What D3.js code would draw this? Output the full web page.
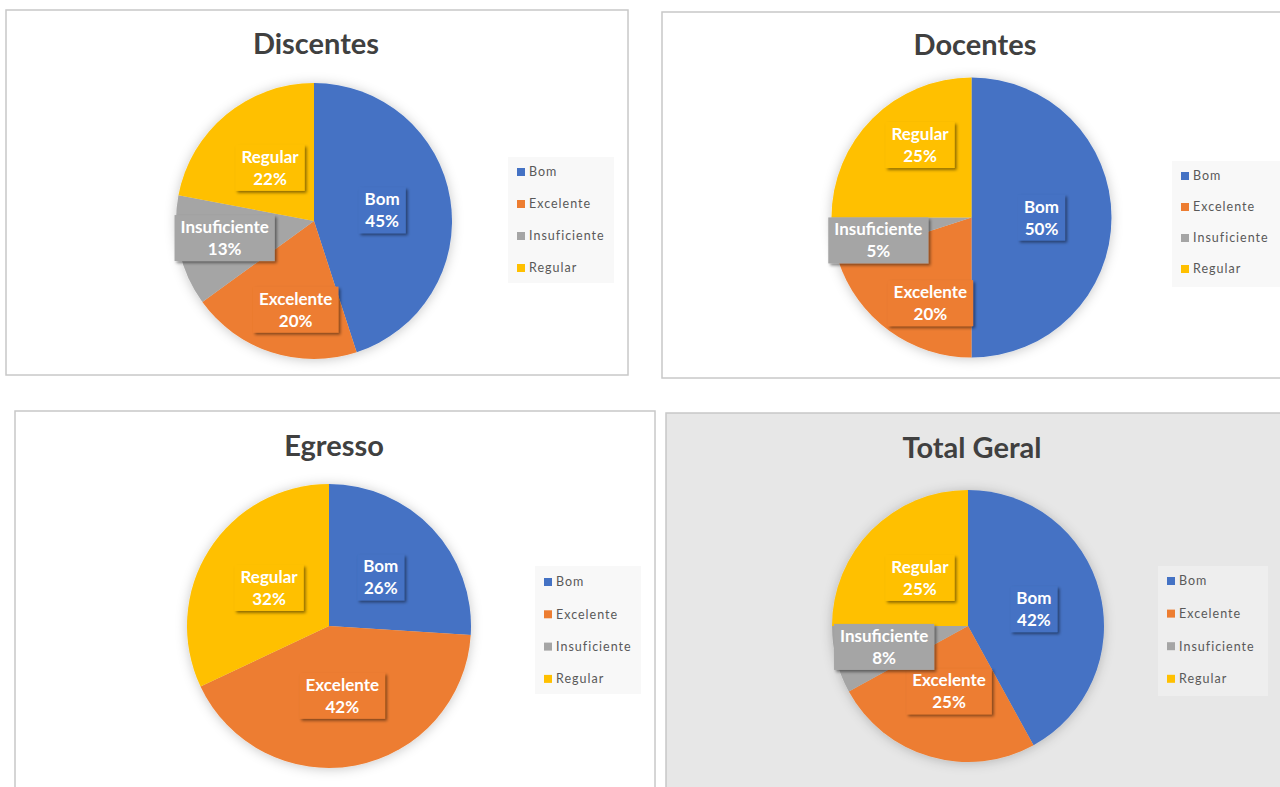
<!DOCTYPE html>
<html>
<head>
<meta charset="utf-8">
<script src="https://cdn.jsdelivr.net/npm/d3@7/dist/d3.min.js"></script>
<style>
  html, body { margin: 0; padding: 0; background: #ffffff; }
  svg { display: block; }
</style>
</head>
<body>
<svg id="chart" width="1280" height="787"></svg>
<script>
// Evaluation categories and per-group percentages
const categories = ["Bom", "Excelente", "Insuficiente", "Regular"];
const titles = ["Discentes", "Docentes", "Egresso", "Total Geral"];
const discentes = [45, 20, 13, 22];
const docentes = [50, 20, 5, 25];
const egresso = [26, 42, 0, 32];
const totalGeral = [42, 25, 8, 25];

const palette = ["#4472C4", "#ED7D31", "#A5A5A5", "#FFC000"];

// Panel layout: frame, pie placement, title and legend placement
const panels = [
  { title: titles[0], values: discentes, frame: [6, 10, 622, 365], bg: "#ffffff",
    cx: 314, cy: 221, r: 138, titleX: 316, titleY: 54,
    legend: { x: 508, y: 157, w: 106, h: 126, first: 15, step: 32 },
    nudge: { Excelente: [3, 23], Insuficiente: [-22, 2] } },
  { title: titles[1], values: docentes, frame: [662, 12, 640, 366], bg: "#ffffff",
    cx: 971.5, cy: 217.5, r: 140, titleX: 975, titleY: 55,
    legend: { x: 1172, y: 161, w: 112, h: 126, first: 15, step: 31 },
    nudge: { Excelente: [0, 29], Insuficiente: [-24, 12], Regular: [-2, -23] } },
  { title: titles[2], values: egresso, frame: [15, 411, 640, 400], bg: "#ffffff",
    cx: 329, cy: 626, r: 142, titleX: 334, titleY: 456,
    legend: { x: 535, y: 566, w: 106, h: 128, first: 16, step: 32.3 },
    nudge: {} },
  { title: titles[3], values: totalGeral, frame: [666, 413, 640, 400], bg: "#e7e7e7",
    cx: 968, cy: 626, r: 136, titleX: 972, titleY: 458,
    legend: { x: 1158, y: 566, w: 110, h: 130, first: 15, step: 32.6 },
    nudge: { Insuficiente: [-18, 4] } }
];

const svg = d3.select("#chart");
const color = d3.scaleOrdinal().domain(categories).range(palette);

const defs = svg.append("defs");
const pieShadow = defs.append("filter").attr("id", "pieShadow")
  .attr("x", "-20%").attr("y", "-20%").attr("width", "140%").attr("height", "140%");
pieShadow.append("feDropShadow").attr("dx", 0).attr("dy", 1).attr("stdDeviation", 6)
  .attr("flood-color", "#000").attr("flood-opacity", 0.22);

const labelShadow = defs.append("filter").attr("id", "labelShadow")
  .attr("x", "-20%").attr("y", "-20%").attr("width", "150%").attr("height", "150%");
labelShadow.append("feDropShadow").attr("dx", 2).attr("dy", 2).attr("stdDeviation", 1.4)
  .attr("flood-color", "#000").attr("flood-opacity", 0.45);

const pie = d3.pie().sort(null).value(d => d.value);

panels.forEach(p => {
  const g = svg.append("g");
  const [fx, fy, fw, fh] = p.frame;

  // Chart area frame
  g.append("rect")
    .attr("x", fx).attr("y", fy).attr("width", fw).attr("height", fh)
    .attr("fill", p.bg).attr("stroke", "#c8c8c8").attr("stroke-width", 1.5);

  // Title
  g.append("text")
    .attr("x", p.titleX).attr("y", p.titleY)
    .attr("text-anchor", "middle")
    .attr("font-family", "Lato, 'Open Sans', sans-serif")
    .attr("font-weight", 700).attr("font-size", 29)
    .attr("fill", "#404040")
    .text(p.title);

  const rows = categories.map((c, i) => ({ category: c, value: p.values[i] }));
  const arcs = pie(rows);
  const arc = d3.arc().innerRadius(0).outerRadius(p.r);
  const labelArc = d3.arc().innerRadius(p.r * 0.5).outerRadius(p.r * 0.5);

  const pg = g.append("g").attr("transform", `translate(${p.cx},${p.cy})`);

  pg.append("g").attr("filter", "url(#pieShadow)")
    .selectAll("path").data(arcs.filter(d => d.value > 0)).join("path")
    .attr("d", arc)
    .attr("fill", d => color(d.data.category));

  // Data labels: category name and percentage in a slice-coloured box
  const lg = pg.selectAll("g.lbl").data(arcs.filter(d => d.value > 0)).join("g")
    .attr("class", "lbl")
    .attr("transform", d => {
      const [x, y] = labelArc.centroid(d);
      const n = p.nudge[d.data.category] || [0, 0];
      return `translate(${x + n[0]},${y + n[1]})`;
    });

  lg.each(function(d) {
    const sel = d3.select(this);
    const t1 = sel.append("text")
      .attr("x", 0).attr("y", -5)
      .attr("text-anchor", "middle")
      .attr("font-family", "Lato, 'Open Sans', sans-serif")
      .attr("font-weight", 700).attr("font-size", 17)
      .attr("fill", "#ffffff")
      .text(d.data.category);
    const t2 = sel.append("text")
      .attr("x", 0).attr("y", 17)
      .attr("text-anchor", "middle")
      .attr("font-family", "Lato, 'Open Sans', sans-serif")
      .attr("font-weight", 700).attr("font-size", 17)
      .attr("fill", "#ffffff")
      .text(d.data.value + "%");
    const w = Math.max(t1.node().getComputedTextLength(), t2.node().getComputedTextLength()) + 12;
    const h = 46;
    sel.insert("rect", "text")
      .attr("x", -w / 2).attr("y", -h / 2)
      .attr("width", w).attr("height", h)
      .attr("fill", color(d.data.category))
      .attr("filter", "url(#labelShadow)");
  });

  // Legend
  const L = p.legend;
  g.append("rect")
    .attr("x", L.x).attr("y", L.y).attr("width", L.w).attr("height", L.h)
    .attr("fill", p.bg === "#ffffff" ? "#f8f8f8" : "#eeeeee");

  const items = g.selectAll("g.leg").data(categories).join("g")
    .attr("class", "leg")
    .attr("transform", (c, i) => `translate(${L.x + 9},${L.y + L.first + i * L.step})`);
  items.append("rect")
    .attr("x", 0).attr("y", -4).attr("width", 8).attr("height", 8)
    .attr("fill", c => color(c));
  items.append("text")
    .attr("x", 12).attr("y", 0).attr("dy", "0.35em")
    .attr("font-family", "Lato, 'Open Sans', sans-serif")
    .attr("font-size", 12.5).attr("letter-spacing", 1)
    .attr("fill", "#595959")
    .text(c => c);
});
</script>
</body>
</html>
